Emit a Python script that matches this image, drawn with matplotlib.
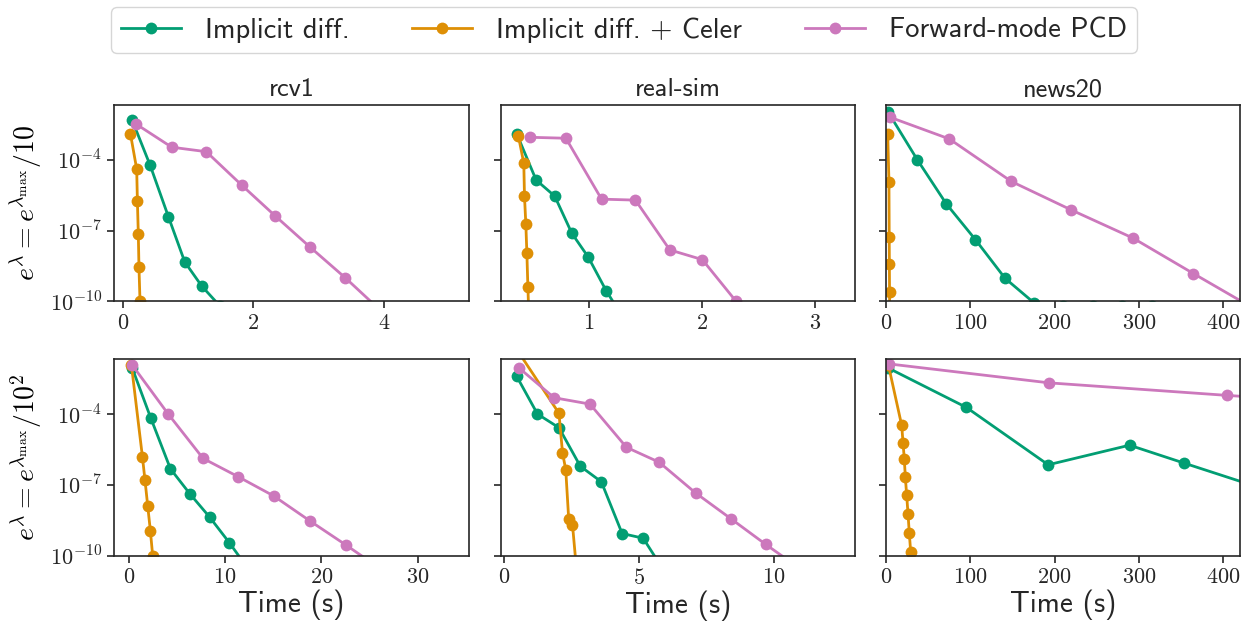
import matplotlib
matplotlib.use("Agg")
import matplotlib.pyplot as plt
import numpy as np
from matplotlib.ticker import FuncFormatter, FixedLocator, NullLocator

plt.rcParams['mathtext.fontset'] = 'cm'
plt.rcParams['font.family'] = ['cmss10', 'DejaVu Sans']
plt.rcParams['axes.unicode_minus'] = False

methods = ["Implicit diff.", "Implicit diff. + Celer", "Forward-mode PCD"]
colors = ["#029E73", "#DE8F05", "#CC78BC"]
datasets = ["rcv1", "real-sim", "news20"]
row_labels = [r"$e^\lambda = e^{\lambda_{\max}}/10$",
              r"$e^\lambda = e^{\lambda_{\max}}/10^2$"]
y_ticks = [1e-10, 1e-7, 1e-4]
x_limits = [[(-0.13, 5.3), (0.22, 3.35), (0, 420)],
            [(-1.5, 35.3), (-0.13, 13.0), (0, 420)]]

# ---- rcv1, lambda_max/10 : time (s), log10 error
t_rcv1_10_impl = [0.14, 0.42, 0.70, 0.95, 1.21, 1.49]
l_rcv1_10_impl = [-2.30, -4.24, -6.42, -8.33, -9.35, -10.2]
t_rcv1_10_celer = [0.117, 0.213, 0.224, 0.238, 0.248, 0.264, 0.28]
l_rcv1_10_celer = [-2.90, -4.39, -5.75, -7.15, -8.55, -10.0, -11.4]
t_rcv1_10_pcd = [0.21, 0.75, 1.28, 1.82, 2.34, 2.87, 3.41, 3.94]
l_rcv1_10_pcd = [-2.50, -3.47, -3.66, -5.07, -6.39, -7.70, -9.00, -10.36]

# ---- real-sim, lambda_max/10
t_rsim_10_impl = [0.363, 0.533, 0.697, 0.849, 0.993, 1.151, 1.25]
l_rsim_10_impl = [-2.92, -4.86, -5.54, -7.12, -8.12, -9.54, -10.3]
t_rsim_10_celer = [0.377, 0.424, 0.430, 0.442, 0.451, 0.460, 0.47]
l_rsim_10_celer = [-3.01, -4.15, -5.53, -6.73, -7.93, -9.37, -10.8]
t_rsim_10_pcd = [0.479, 0.796, 1.111, 1.410, 1.714, 2.001, 2.30, 2.45]
l_rsim_10_pcd = [-3.05, -3.09, -5.67, -5.71, -7.82, -8.23, -10.0, -10.6]

# ---- news20, lambda_max/10
t_news_10_impl = [2.8, 37.1, 71.5, 105.9, 141.1, 175.1, 210.3, 245.9, 280.3, 315.0]
l_news_10_impl = [-2.0, -4.0, -5.87, -7.38, -9.02, -10.05, -10.2, -10.2, -10.2, -10.2]
t_news_10_celer = [2.0, 3.5, 3.8, 4.0, 4.2, 4.4]
l_news_10_celer = [-2.9, -4.93, -7.27, -8.40, -9.60, -11.0]
t_news_10_pcd = [4.7, 75.1, 148.6, 219.8, 292.9, 364.4, 436.0]
l_news_10_pcd = [-2.20, -3.12, -4.92, -6.13, -7.32, -8.82, -10.3]

# ---- rcv1, lambda_max/100
t_rcv1_100_impl = [0.35, 2.28, 4.33, 6.33, 8.41, 10.45, 12.3]
l_rcv1_100_impl = [-2.04, -4.16, -6.32, -7.37, -8.37, -9.45, -10.5]
t_rcv1_100_celer = [0.28, 1.42, 1.69, 1.97, 2.25, 2.49, 2.75]
l_rcv1_100_celer = [-1.93, -5.81, -6.81, -7.89, -8.96, -10.02, -11.0]
t_rcv1_100_pcd = [0.35, 4.08, 7.72, 11.39, 15.06, 18.83, 22.57, 26.3]
l_rcv1_100_pcd = [-1.92, -3.99, -5.88, -6.66, -7.47, -8.53, -9.55, -10.6]

# ---- real-sim, lambda_max/100
t_rsim_100_impl = [0.457, 1.233, 2.03, 2.82, 3.60, 4.37, 5.15, 5.9]
l_rsim_100_impl = [-2.39, -4.0, -4.58, -6.21, -6.87, -9.06, -9.26, -10.6]
t_rsim_100_celer = [0.40, 2.03, 2.16, 2.28, 2.39, 2.53, 2.68]
l_rsim_100_celer = [-1.15, -3.97, -5.64, -6.35, -8.45, -8.68, -10.6]
t_rsim_100_pcd = [0.55, 1.85, 3.18, 4.53, 5.74, 7.09, 8.42, 9.69, 10.9]
l_rsim_100_pcd = [-2.05, -3.31, -3.58, -5.41, -6.04, -7.34, -8.45, -9.52, -10.5]

# ---- news20, lambda_max/100
t_news_100_impl = [2.0, 95.3, 192.3, 288.7, 353.5, 450.0]
l_news_100_impl = [-2.04, -3.72, -6.15, -5.32, -6.08, -7.2]
t_news_100_celer = [2.8, 18.6, 20.2, 21.7, 22.9, 24.5, 26.1, 27.6, 29.3, 31.0]
l_news_100_celer = [-1.92, -4.48, -5.22, -5.91, -6.66, -7.44, -8.23, -9.04, -9.86, -10.7]
t_news_100_pcd = [4.0, 193.3, 404.0, 610.0]
l_news_100_pcd = [-1.88, -2.68, -3.21, -3.7]

panels = [
    [[(t_rcv1_10_impl, l_rcv1_10_impl), (t_rcv1_10_celer, l_rcv1_10_celer), (t_rcv1_10_pcd, l_rcv1_10_pcd)],
     [(t_rsim_10_impl, l_rsim_10_impl), (t_rsim_10_celer, l_rsim_10_celer), (t_rsim_10_pcd, l_rsim_10_pcd)],
     [(t_news_10_impl, l_news_10_impl), (t_news_10_celer, l_news_10_celer), (t_news_10_pcd, l_news_10_pcd)]],
    [[(t_rcv1_100_impl, l_rcv1_100_impl), (t_rcv1_100_celer, l_rcv1_100_celer), (t_rcv1_100_pcd, l_rcv1_100_pcd)],
     [(t_rsim_100_impl, l_rsim_100_impl), (t_rsim_100_celer, l_rsim_100_celer), (t_rsim_100_pcd, l_rsim_100_pcd)],
     [(t_news_100_impl, l_news_100_impl), (t_news_100_celer, l_news_100_celer), (t_news_100_pcd, l_news_100_pcd)]],
]

W, H = 1248, 628
fig = plt.figure(figsize=(W / 100, H / 100), dpi=100)

lefts = [114.3, 500.7, 886.0]
width = 354.3
tops = [104.7, 359.0]
height = 196.7
edge = '#262626'


def xfmt(v, pos):
    return r'$%g$' % v


def yfmt(v, pos):
    return r'$10^{%d}$' % int(round(np.log10(v)))


handles = []
for r in range(2):
    for c in range(3):
        ax = fig.add_axes([lefts[c] / W, 1 - (tops[r] + height) / H, width / W, height / H])
        for m in range(3):
            t, lg = panels[r][c][m]
            h, = ax.plot(t, 10.0 ** np.array(lg), '-o', color=colors[m], lw=2,
                         ms=8.5, mec=colors[m], mew=0, label=methods[m])
            if r == 0 and c == 0:
                handles.append(h)
        ax.set_yscale('log')
        ax.set_ylim(1e-10, 10 ** -1.67)
        ax.set_xlim(*x_limits[r][c])
        ax.yaxis.set_major_locator(FixedLocator(y_ticks))
        ax.yaxis.set_minor_locator(NullLocator())
        ax.xaxis.set_minor_locator(NullLocator())
        ax.xaxis.set_major_formatter(FuncFormatter(xfmt))
        if c == 0:
            ax.yaxis.set_major_formatter(FuncFormatter(yfmt))
            ax.set_ylabel(row_labels[r], fontsize=20, labelpad=4)
        else:
            ax.set_yticklabels([])
        ax.tick_params(axis='both', which='major', labelsize=16, length=5,
                       width=1.2, color=edge, labelcolor=edge, direction='out', pad=4)
        for s in ax.spines.values():
            s.set_color(edge)
            s.set_linewidth(1.2)
        if r == 0:
            ax.set_title(datasets[c], fontsize=19, color=edge, pad=6)
        else:
            ax.set_xlabel("Time (s)", fontsize=21, color=edge, labelpad=2)

leg = fig.legend(handles=handles, loc='upper center', bbox_to_anchor=(0.5, 1.0),
                 ncol=3, fontsize=20.5, frameon=True, fancybox=True,
                 handlelength=2.1, columnspacing=2.2, markerscale=1.0,
                 borderpad=0.35, handletextpad=0.85, borderaxespad=0.25)
leg.get_frame().set_edgecolor('#cccccc')
leg.get_frame().set_linewidth(1.0)
for txt in leg.get_texts():
    txt.set_color(edge)

fig.savefig('out.png', dpi=100)
